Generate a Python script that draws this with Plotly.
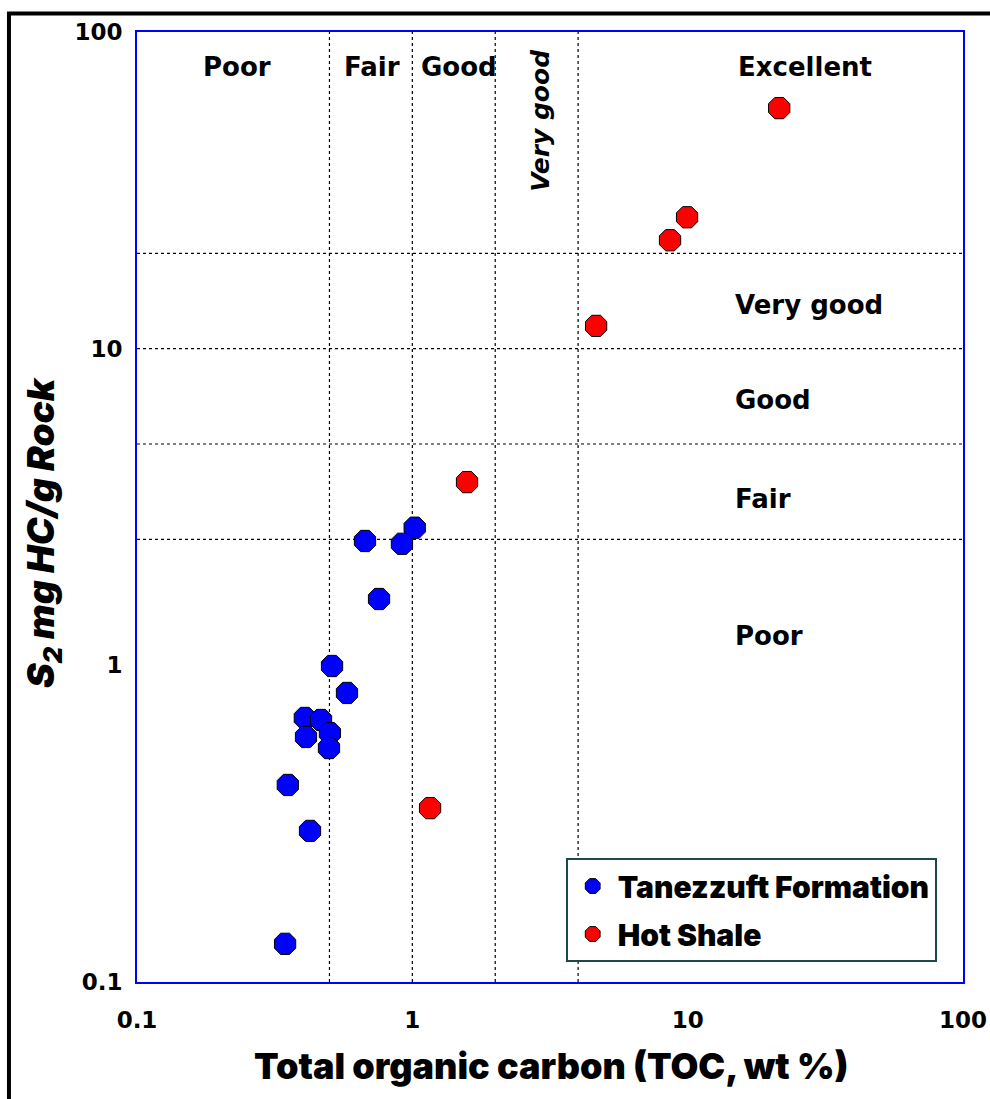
import plotly.graph_objects as go

# Rock-Eval data: TOC (wt %) and S2 (mg HC/g rock)
tanezzuft_toc = [1.02, 0.673, 0.917, 0.757, 0.511, 0.579, 0.407, 0.466, 0.411, 0.502, 0.498, 0.353, 0.425, 0.345]
tanezzuft_s2 = [2.72, 2.47, 2.42, 1.62, 0.995, 0.818, 0.682, 0.672, 0.594, 0.611, 0.548, 0.419, 0.300, 0.132]

hot_shale_toc = [21.5, 9.95, 8.63, 4.65, 1.58, 1.16]
hot_shale_s2 = [57.5, 26.0, 22.0, 11.8, 3.79, 0.354]

# Source-rock quality class boundaries
toc_bounds = [0.5, 1, 2, 4]
s2_bounds = [2.5, 5, 10, 20]

tick_vals = [0.1, 1, 10, 100]
tick_text = ["0.1", "1", "10", "100"]

BOLD = "DejaVu Sans"
HEAVY = "Inter"

fig = go.Figure()

fig.add_trace(go.Scatter(
    x=tanezzuft_toc, y=tanezzuft_s2, mode="markers", name="Tanezzuft Formation",
    legendgroup="t",
    marker=dict(symbol="octagon", size=23, color="#0000FF", line=dict(color="black", width=1)),
))
fig.add_trace(go.Scatter(
    x=hot_shale_toc, y=hot_shale_s2, mode="markers", name="Hot Shale",
    legendgroup="h",
    marker=dict(symbol="octagon", size=23, color="#FF0000", line=dict(color="black", width=1)),
))

shapes = []
for v in toc_bounds:
    shapes.append(dict(type="line", xref="x", yref="paper", x0=v, x1=v, y0=0, y1=1,
                       line=dict(color="black", width=1.2, dash="dot"), layer="below"))
for v in s2_bounds:
    shapes.append(dict(type="line", xref="paper", yref="y", x0=0, x1=1, y0=v, y1=v,
                       line=dict(color="black", width=1.2, dash="dot"), layer="below"))
# outer frame
shapes.append(dict(type="rect", xref="paper", yref="paper",
                   x0=-0.155, x1=1.06, y0=-0.15, y1=1.0195,
                   line=dict(color="black", width=4), fillcolor="rgba(0,0,0,0)"))


def note(text, x, y, font, angle=0, xanchor="center"):
    return dict(text=text, x=x, y=y, xref="paper", yref="paper", showarrow=False,
                xanchor=xanchor, yanchor="middle", textangle=angle, font=font)


label_font = dict(family=BOLD, size=26, color="black", weight="bold")
annotations = []
# TOC classes along the top
for text, x in [("Poor", 0.121), ("Fair", 0.2845), ("Good", 0.390), ("Excellent", 0.809)]:
    annotations.append(note(text, x, 0.963, label_font))
annotations.append(note("<i>Very good</i>", 0.4885, 0.907,
                        dict(family=BOLD, size=25, color="black", weight="bold"), angle=-90))
# S2 classes on the right
for text, y in [("Very good", 0.7126), ("Good", 0.6126), ("Fair", 0.5084), ("Poor", 0.3642)]:
    annotations.append(note(text, 0.7215, y, label_font, xanchor="left"))
# axis titles
annotations.append(note("<i>S<sub>2</sub> mg HC/g Rock</i>", -0.1138, 0.4726,
                        dict(family=HEAVY, size=37, color="black", weight=900), angle=-90))
annotations.append(note("Total organic carbon (TOC, wt %)", 0.501, -0.0884,
                        dict(family=HEAVY, size=36, color="black", weight=900)))

axis_common = dict(type="log", range=[-1, 2], showgrid=False, zeroline=False,
                   showline=True, linecolor="#0000FF", linewidth=2, mirror=True,
                   ticks="", tickvals=tick_vals, ticktext=tick_text, automargin=False,
                   ticklabeloverflow="allow",
                   tickfont=dict(family=BOLD, size=23, color="black", weight="bold"))

fig.update_layout(
    width=990, height=1099,
    margin=dict(l=137, r=27, t=32, b=117),
    paper_bgcolor="white", plot_bgcolor="white",
    xaxis=dict(**axis_common, ticklabelstandoff=16),
    yaxis=dict(**axis_common, ticklabelstandoff=8),
    shapes=shapes, annotations=annotations,
    showlegend=True,
    legend=dict(x=0.519, y=0.1305, xanchor="left", yanchor="top",
                bgcolor="white", bordercolor="#1E4848", borderwidth=2,
                font=dict(family=HEAVY, size=30, color="black", weight=900),
                itemsizing="trace", itemwidth=40, tracegroupgap=6,
                traceorder="grouped"),
)

fig.write_html("out.html")
